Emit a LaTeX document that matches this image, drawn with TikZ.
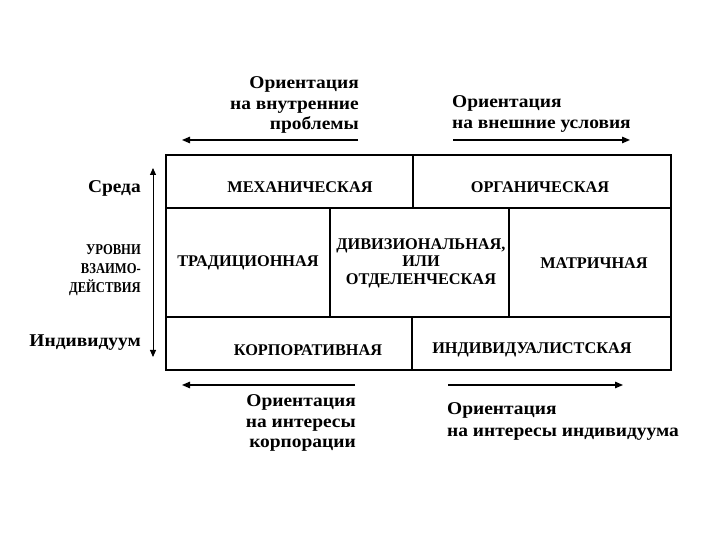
\documentclass[tikz,border=0pt]{standalone}
\usepackage{fontspec}
\setmainfont{Liberation Serif}
\newfontfamily\notefont{Liberation Serif Bold}[FakeStretch=1.08]
\newfontfamily\narrowfont{Liberation Serif Bold}[FakeStretch=0.84]
\usetikzlibrary{arrows.meta}

\begin{document}
\begin{tikzpicture}[
  x=1pt,y=1pt,
  celltext/.style={font=\fontsize{16.3}{17.5}\selectfont\bfseries, align=center, inner sep=0pt},
  lvltext/.style={font=\narrowfont\fontsize{15}{19}\selectfont, align=right, inner sep=0pt},
  note/.style={font=\notefont\fontsize{18}{20.5}\selectfont, inner sep=0pt},
  frame/.style={draw=black, line width=2.6pt},
  rule/.style={draw=black, line width=1.7pt},
  orient/.style={-{Triangle[length=8pt,width=6.5pt]}, draw=black, line width=1.3pt},
  level/.style={{Triangle[length=7pt,width=6pt]}-{Triangle[length=7pt,width=6pt]}, draw=black, line width=0.9pt}
]
  \fill[white] (0,0) rectangle (720,540);
  \useasboundingbox (0,0) rectangle (720,540);

  % table
  \draw[rule] (166,332) -- (671,332);
  \draw[rule] (166,223) -- (671,223);
  \draw[rule] (413,385) -- (413,332);
  \draw[rule] (330,332) -- (330,223);
  \draw[rule] (509,332) -- (509,223);
  \draw[rule] (412,223) -- (412,170);
  \draw[frame] (166,170) rectangle (671,385);

  \node[celltext] (mech) at (300,353) {МЕХАНИЧЕСКАЯ};
  \node[celltext] (org) at (540,353) {ОРГАНИЧЕСКАЯ};
  \node[celltext] (trad) at (248,277) {ТРАДИЦИОННАЯ};
  \node[celltext] (div) at (421,277) {ДИВИЗИОНАЛЬНАЯ,\\ИЛИ\\ОТДЕЛЕНЧЕСКАЯ};
  \node[celltext] (matr) at (594,277) {МАТРИЧНАЯ};
  \node[celltext] (corp) at (308,190) {КОРПОРАТИВНАЯ};
  \node[celltext] (indiv) at (532,190) {ИНДИВИДУАЛИСТСКАЯ};

  % orientations
  \node[note, anchor=east, align=right] (inner) at (359,435) {Ориентация\\на внутренние\\проблемы};
  \node[note, anchor=west, align=left] (outer) at (452,426) {Ориентация\\на внешние условия};
  \coordinate (in1) at (358,400);
  \coordinate (in2) at (182,400);
  \coordinate (out1) at (453,400);
  \coordinate (out2) at (630,400);
  \draw[orient] (in1) -- (in2);
  \draw[orient] (out1) -- (out2);

  \node[note, anchor=east, align=right] (corpi) at (356,117) {Ориентация\\на интересы\\корпорации};
  \node[note, anchor=west, align=left, font=\notefont\fontsize{18}{22}\selectfont] (indivi) at (447,119) {Ориентация\\на интересы индивидуума};
  \coordinate (co1) at (355,155);
  \coordinate (co2) at (182,155);
  \coordinate (iv1) at (448,155);
  \coordinate (iv2) at (623,155);
  \draw[orient] (co1) -- (co2);
  \draw[orient] (iv1) -- (iv2);

  % levels
  \node[note, anchor=east] (env) at (141,352) {Среда};
  \node[lvltext, anchor=east] (lvl) at (141,270) {УРОВНИ\\ВЗАИМО-\\ДЕЙСТВИЯ};
  \node[note, anchor=east] (ind) at (141,197) {Индивидуум};
  \coordinate (lv1) at (153,183);
  \coordinate (lv2) at (153,372);
  \draw[level] (lv1) -- (lv2);
\end{tikzpicture}
\end{document}
